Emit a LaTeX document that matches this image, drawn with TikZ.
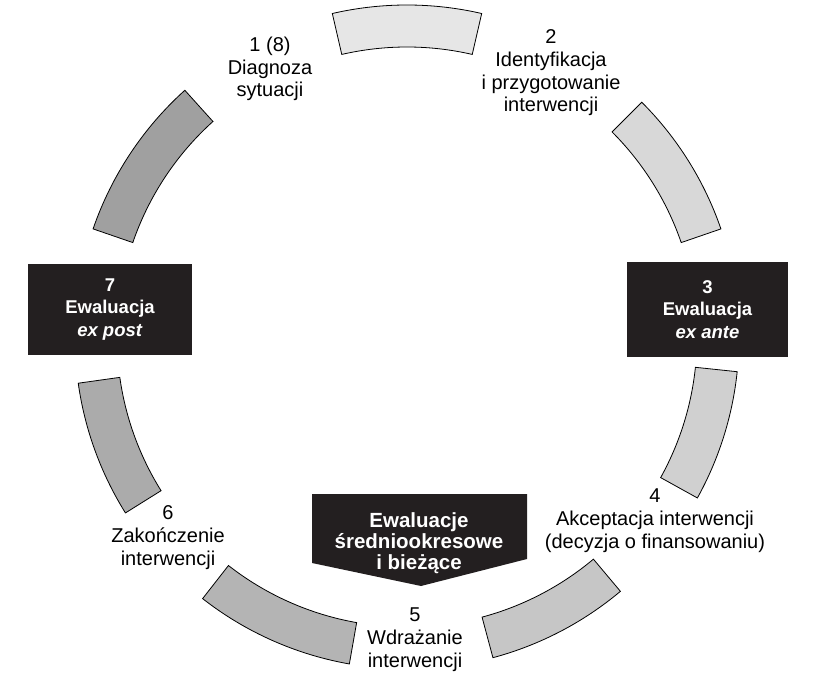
\documentclass[tikz,border=0pt]{standalone}
\usepackage{fontspec}
\setmainfont{Liberation Sans}
\definecolor{boxblack}{HTML}{231F20}
\definecolor{gA}{HTML}{E6E6E6}
\definecolor{gB}{HTML}{D8D8D8}
\definecolor{gC}{HTML}{D0D0D0}
\definecolor{gD}{HTML}{C6C6C6}
\definecolor{gE}{HTML}{B4B4B4}
\definecolor{gF}{HTML}{ABABAB}
\definecolor{gG}{HTML}{A0A0A0}
\newcommand\ringseg[3]{%
  \path[seg, fill=#3, shift={(407pt,-337pt)}]
    (#1:332pt) arc[start angle=#1, end angle=#2, radius=332pt]
    -- (#2:290pt) arc[start angle=#2, end angle=#1, radius=290pt] -- cycle;}
\tikzset{
  seg/.style={draw=black, line width=0.8pt, line join=miter},
  lbl/.style={align=center, font=\fontsize{20}{22.7}\selectfont, inner sep=0pt, anchor=base},
  evalbox/.style={fill=boxblack, text=white, align=center,
    font=\fontsize{18.5}{22.5}\selectfont\bfseries, inner sep=0pt},
  midtext/.style={text=white, align=center,
    font=\fontsize{20.5}{20.8}\selectfont\bfseries, inner sep=0pt, anchor=base},
}
\begin{document}
\begin{tikzpicture}[x=1pt,y=1pt]
\useasboundingbox (0,0) rectangle (827,-687);
% ring segments
\ringseg{77}{103}{gA}
\ringseg{19}{45}{gB}
\ringseg{-29}{-6}{gC}
\ringseg{-75}{-50}{gD}
\ringseg{232}{260}{gE}
\ringseg{188}{212}{gF}
\ringseg{132}{161}{gG}
% labels (anchored at the baseline of their last line)
\node[lbl] (l1) at (270,-97) {1 (8)\\Diagnoza\\sytuacji};
\node[lbl] (l2) at (551,-112) {2\\Identyfikacja\\i przygotowanie\\interwencji};
\node[lbl] (l4) at (655,-548) {4\\Akceptacja interwencji\\(decyzja o finansowaniu)};
\node[lbl] (l6) at (168,-565) {6\\Zakończenie\\interwencji};
\node[lbl] (l5) at (415,-667) {5\\Wdrażanie\\interwencji};
% evaluation boxes
\node[evalbox, minimum width=161pt, minimum height=95pt] (ev3) at (707.5,-309.5)
  {3\\Ewaluacja\\\textit{ex ante}};
\node[evalbox, minimum width=164pt, minimum height=91pt] (ev7) at (110,-309.5)
  {7\\Ewaluacja\\\textit{ex post}};
% mid-term pentagon
\coordinate (pa) at (312,-494);
\coordinate (pb) at (527,-494);
\coordinate (pc) at (527,-559);
\coordinate (pd) at (421,-586);
\coordinate (pe) at (312,-563);
\fill[boxblack] (pa) -- (pb) -- (pc) -- (pd) -- (pe) -- cycle;
\node[midtext] (mid) at (419,-569) {Ewaluacje\\średniookresowe\\i bieżące};
\end{tikzpicture}
\end{document}
